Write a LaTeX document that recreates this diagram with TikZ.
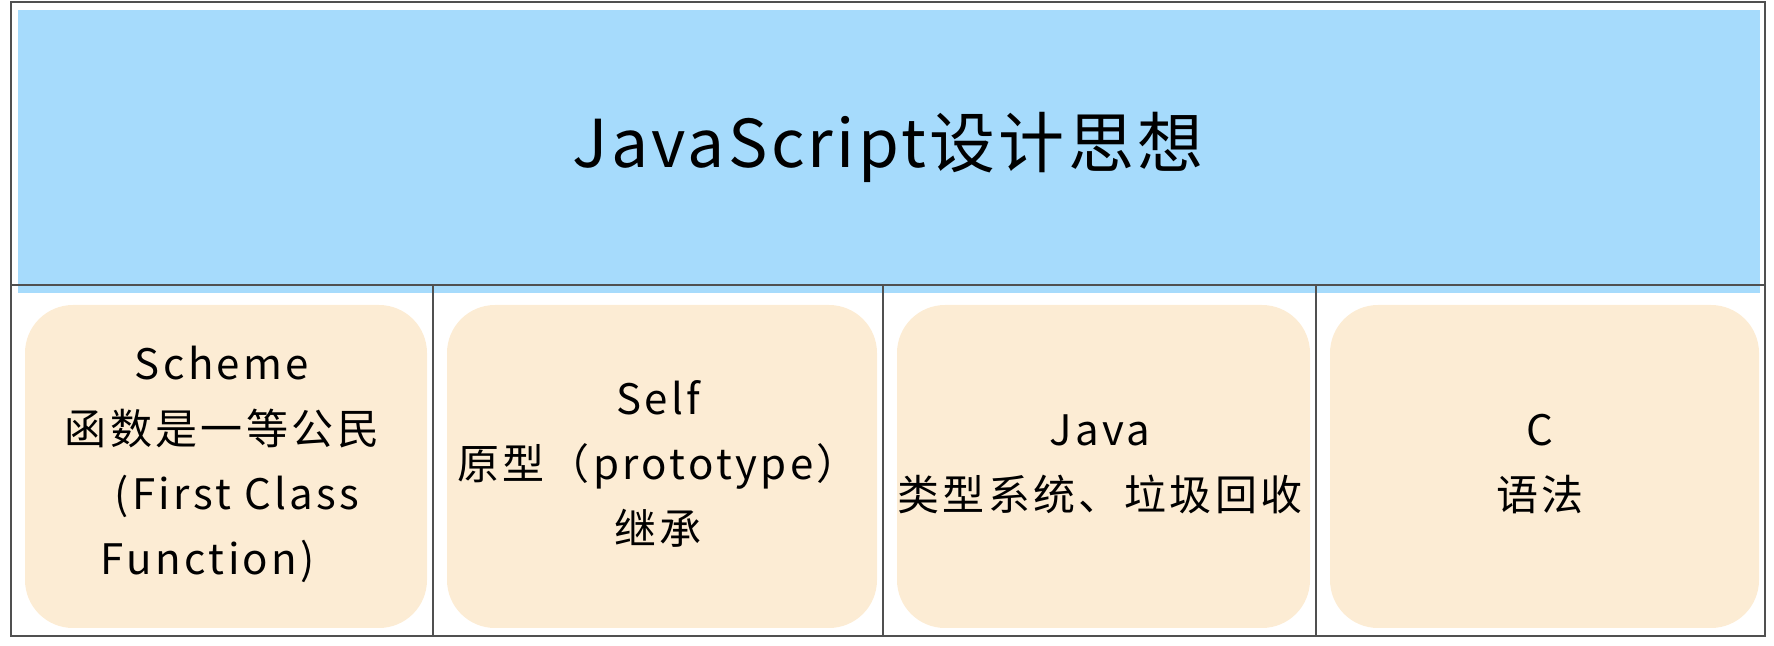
\documentclass[tikz,border=0pt]{standalone}
\usepackage{fontspec}
\setmainfont{Noto Sans CJK SC}
\usepackage{tikz}
\usetikzlibrary{positioning}
\definecolor{skyblue}{RGB}{166,219,252}
\definecolor{paper}{RGB}{252,236,212}
\definecolor{gridline}{RGB}{80,80,80}
\tikzstyle{banner} = [
    text=black,
    font=\fontsize{33}{38}\selectfont\addfontfeatures{LetterSpace=5}
]
\tikzstyle{cell} = [
    align=center,
    text=black,
    font=\fontsize{21}{32.5}\selectfont\addfontfeatures{LetterSpace=8}
]
\tikzstyle{pad} = [
    fill=paper,
    rounded corners=24pt
]
\tikzstyle{rule} = [
    draw=gridline,
    line width=0.8pt
]

\begin{document}
\begin{tikzpicture}[x=0.5pt, y=-0.5pt]
        \useasboundingbox (0,0) rectangle (1774,646);

        % Blue header band
        \fill[skyblue] (18,10) rectangle (1760,293);

        % Paper pads under each column
        \foreach \l/\r in {11/433, 433/883, 883/1316, 1316/1765}
            \fill[pad] (\l+14,305) rectangle (\r-6,628);

        % Title
        \node[banner] (title) at (888,147) {JavaScript设计思想};

        % Columns
        \node[cell] (scheme) at (222,464) {Scheme\\函数是一等公民\\\hspace*{15pt}(First Class\\Function)\hspace*{14pt}};
        \node[cell] (self) at (658,464) {Self\\原型（prototype）\\继承};
        \node[cell] (java) at (1100,464) {Java\\类型系统、垃圾回收};
        \node[cell] (clang) at (1540,464) {C\\语法};

        % Grid
        \draw[rule] (11,2) rectangle (1765,636);
        \draw[rule] (11,285) -- (1765,285);
        \foreach \x in {433, 883, 1316}
            \draw[rule] (\x,285) -- (\x,636);
    \end{tikzpicture}
\end{document}
